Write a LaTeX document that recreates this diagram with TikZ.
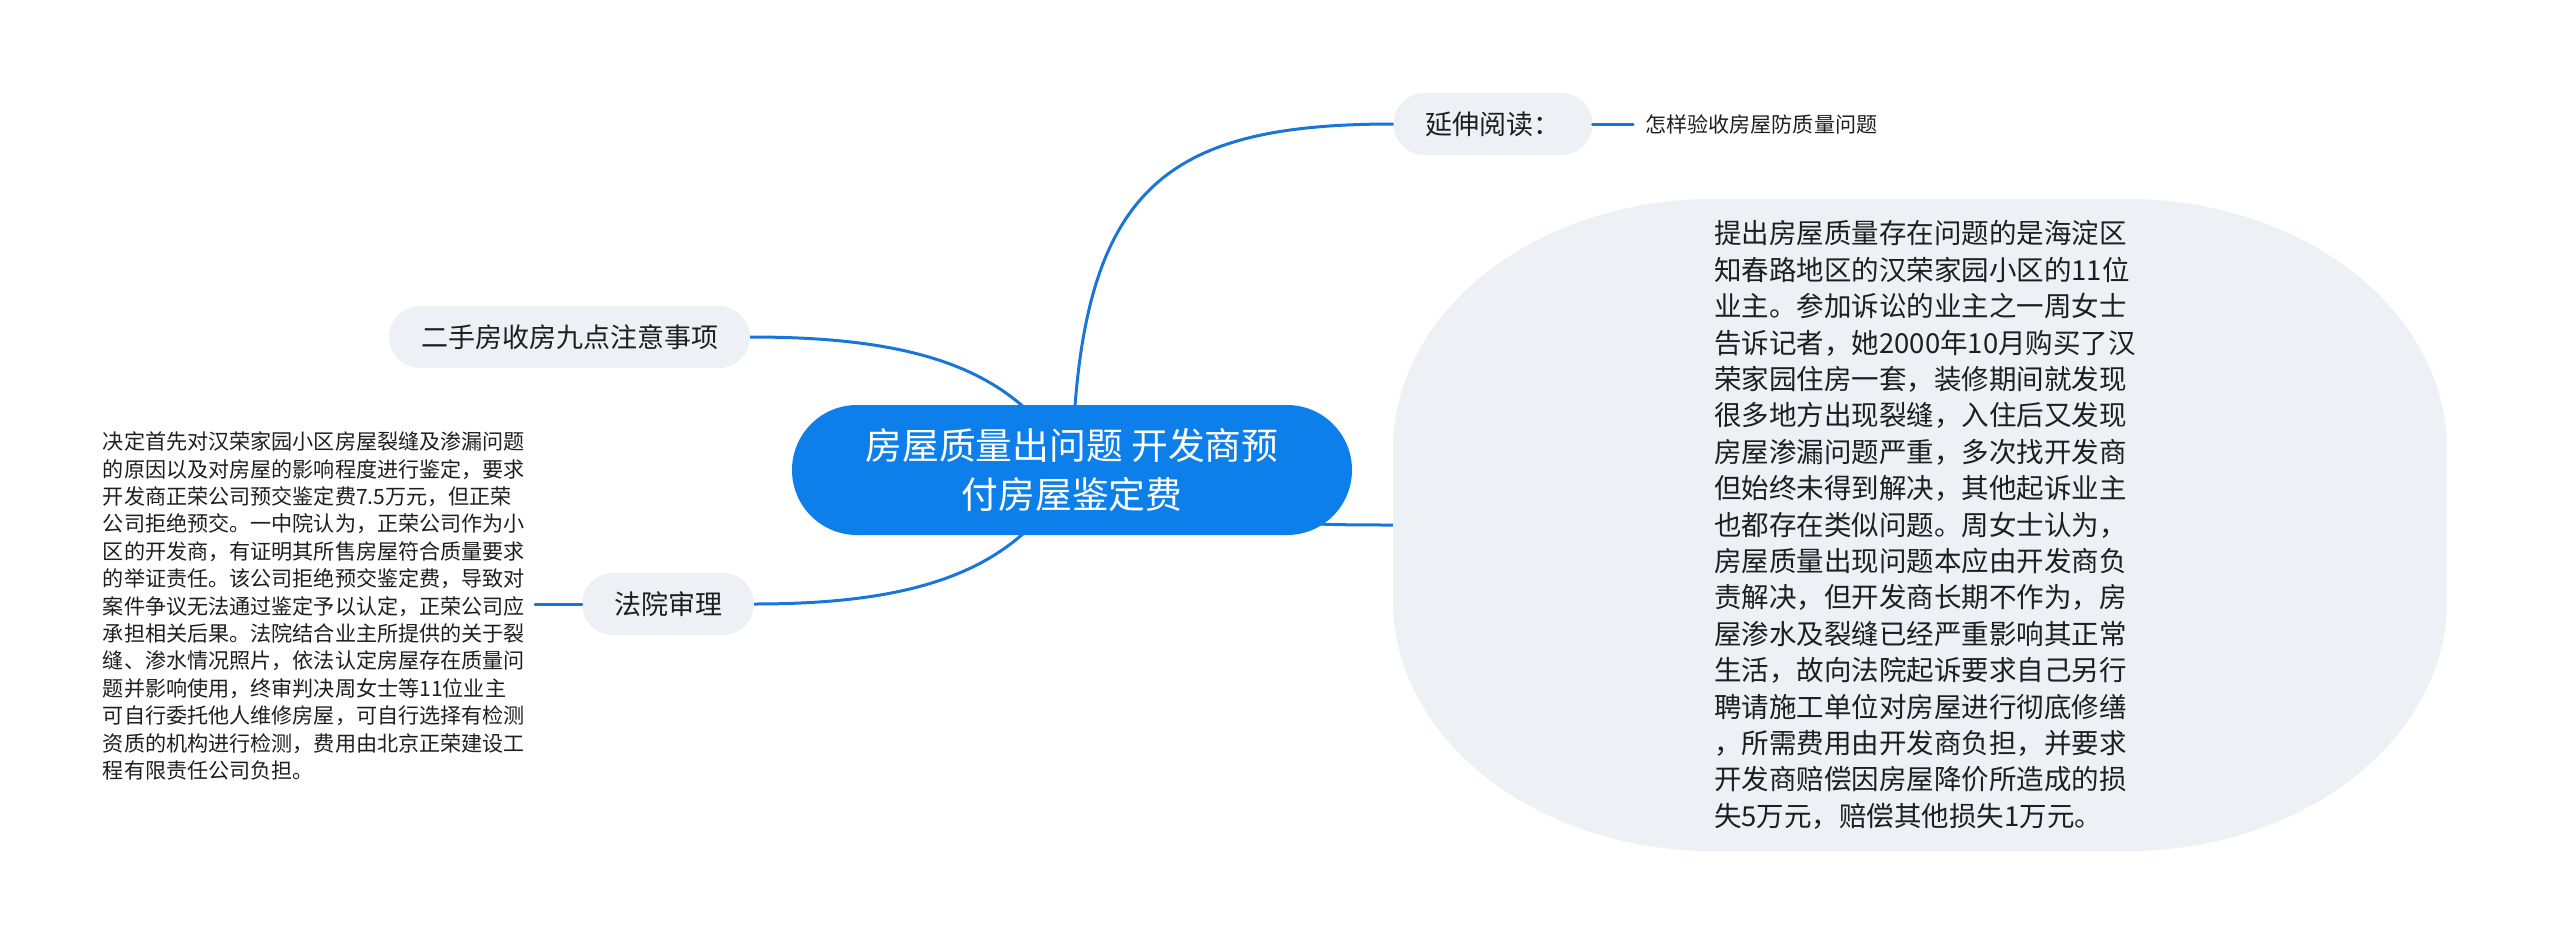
\documentclass[tikz,border=0pt]{standalone}
\usepackage{fontspec}
\setmainfont{Noto Sans CJK SC}
\usetikzlibrary{backgrounds}
\definecolor{rootblue}{RGB}{12,127,234}
\definecolor{linkblue}{RGB}{24,118,218}
\definecolor{pillgray}{RGB}{237,241,245}
\definecolor{txt}{RGB}{30,30,30}
\tikzset{
  link/.style={draw=linkblue, line width=3pt, line cap=round},
  rootbox/.style={fill=rootblue, text=white, rounded corners=65pt, minimum width=560pt, minimum height=130pt, inner sep=0pt, align=center, font=\fontsize{36.8}{49}\selectfont},
  pill/.style={fill=pillgray, text=txt, rounded corners=31pt, minimum height=62pt, inner xsep=32pt, inner ysep=0pt, font=\fontsize{27}{32}\selectfont},
  smalltext/.style={text=txt, inner sep=0pt, align=left, font=\fontsize{21.1}{27.4}\selectfont},
  bigtext/.style={text=txt, inner sep=0pt, align=left, font=\fontsize{27.5}{36.4}\selectfont},
}
\begin{document}
\begin{tikzpicture}[x=1pt,y=-1pt]
\useasboundingbox (0,0) rectangle (2560,942);
% detail shape
\fill[pillgray] (1393,449) -- (1393,601) .. controls (1393,739) and (1536,851) .. (1713,851)
  -- (2127,851) .. controls (2304,851) and (2447,739) .. (2447,601)
  -- (2447,449) .. controls (2447,311) and (2304,199) .. (2127,199)
  -- (1713,199) .. controls (1536,199) and (1393,311) .. (1393,449) -- cycle;
\node[minimum width=1054pt, minimum height=652pt, inner sep=0pt] (detail) at (1920,525) {};
\node[bigtext, anchor=west] (detailtext) at (1714,525) {提出房屋质量存在问题的是海淀区\\知春路地区的汉荣家园小区的11位\\业主。参加诉讼的业主之一周女士\\告诉记者，她2000年10月购买了汉\\荣家园住房一套，装修期间就发现\\很多地方出现裂缝，入住后又发现\\房屋渗漏问题严重，多次找开发商\\但始终未得到解决，其他起诉业主\\也都存在类似问题。周女士认为，\\房屋质量出现问题本应由开发商负\\责解决，但开发商长期不作为，房\\屋渗水及裂缝已经严重影响其正常\\生活，故向法院起诉要求自己另行\\聘请施工单位对房屋进行彻底修缮\\，所需费用由开发商负担，并要求\\开发商赔偿因房屋降价所造成的损\\失5万元，赔偿其他损失1万元。};
% root
\node[rootbox] (root) at (1072,470) {房屋质量出问题 开发商预\\付房屋鉴定费};
% level one
\node[pill] (yan) at (1493,124) {延伸阅读：};
\node[pill] (ershou) at (569.5,337) {二手房收房九点注意事项};
\node[pill] (fayuan) at (668,604) {法院审理};
% leaves
\node[smalltext, anchor=west] (yanlink) at (1645,124) {怎样验收房屋防质量问题};
\node[smalltext, anchor=west] (lefttext) at (102.7,606) {决定首先对汉荣家园小区房屋裂缝及渗漏问题\\的原因以及对房屋的影响程度进行鉴定，要求\\开发商正荣公司预交鉴定费7.5万元，但正荣\\公司拒绝预交。一中院认为，正荣公司作为小\\区的开发商，有证明其所售房屋符合质量要求\\的举证责任。该公司拒绝预交鉴定费，导致对\\案件争议无法通过鉴定予以认定，正荣公司应\\承担相关后果。法院结合业主所提供的关于裂\\缝、渗水情况照片，依法认定房屋存在质量问\\题并影响使用，终审判决周女士等11位业主\\可自行委托他人维修房屋，可自行选择有检测\\资质的机构进行检测，费用由北京正荣建设工\\程有限责任公司负担。};
% connectors
\begin{scope}[on background layer]
\draw[link] (root.center) .. controls (1078,190) and (1160,124) .. (yan.west);
\draw[link] (root.center) .. controls (1020,370) and (920,337) .. (ershou.east);
\draw[link] (root.center) .. controls (1020,570) and (920,604) .. (fayuan.east);
\draw[link] (root.center) .. controls (1200,525) and (1300,525) .. (detail.west);
\end{scope}
\draw[link, shorten >=12pt] (yan.east) -- (yanlink.west);
\draw[link, shorten >=10pt] (fayuan.west) -- (lefttext.east |- fayuan.west);
\end{tikzpicture}
\end{document}
